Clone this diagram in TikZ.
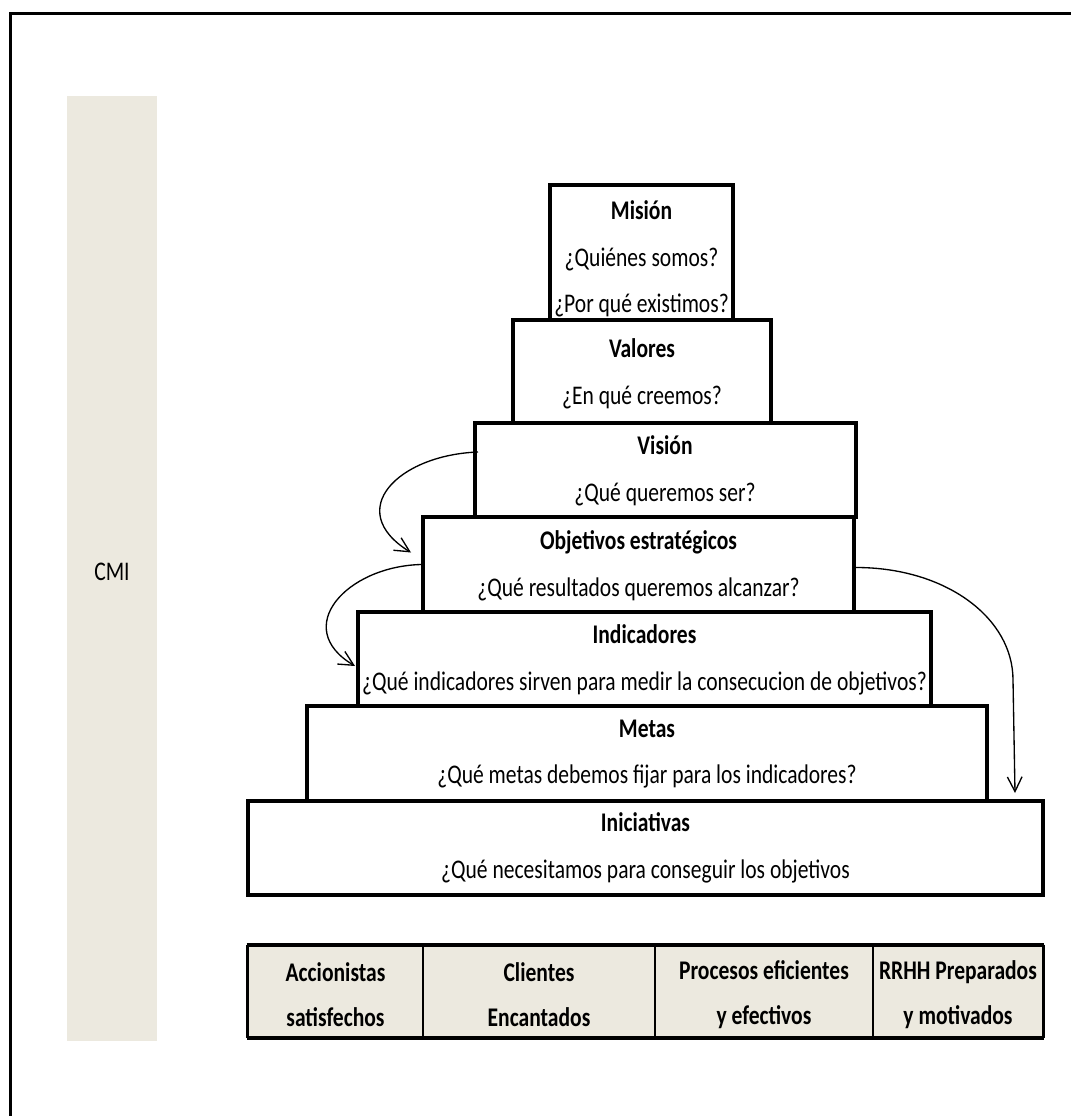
\documentclass[tikz,border=0pt]{standalone}
\usepackage{fontspec}
\setmainfont{Carlito}[FakeStretch=0.8]
\usetikzlibrary{arrows.meta,calc,fit}
\definecolor{panel}{RGB}{236,233,223}
\begin{document}
\begin{tikzpicture}[x=0.75pt,y=-0.75pt,
  tier/.style={draw, line width=3pt, fill=white, inner sep=0pt, line join=miter},
  tiertext/.style={align=center, inner sep=0pt, font=\fontsize{20.2}{35}\selectfont},
  cell/.style={align=center, inner sep=0pt, font=\bfseries\fontsize{20.2}{33.75}\selectfont},
  link/.style={line width=1pt, -{Straight Barb[length=11pt,width=11pt]}},
  bar/.style={fill=panel, inner sep=0pt}]
\useasboundingbox (0,0) rectangle (1070,1116);

% outer frame (runs past the page on the right and at the bottom)
\draw[line width=2.6pt, line join=miter] (1080,13.5) -- (10.5,13.5) -- (10.5,1130);

% side band
\node[bar, fit={(67,96)(157,1041)}] (cmibar) {};
\node[tiertext] (cmi) at (112,572) {CMI};

% pyramid tiers, top to bottom
\node[tier, fit={(550,185)(733,320)}] (mision) {};
\node[tier, fit={(513,320)(771,423)}] (valores) {};
\node[tier, fit={(475,423)(856,517)}] (vision) {};
\node[tier, fit={(423,517)(854,612)}] (objetivos) {};
\node[tier, fit={(358,612)(931,706)}] (indicadores) {};
\node[tier, fit={(307,706)(987,801)}] (metas) {};
\node[tier, fit={(248,801)(1043,895)}] (iniciativas) {};

\node[tiertext] (tmision) at (641.5,259) {\textbf{Misión}\\¿Quiénes somos?\\¿Por qué existimos?};
\node[tiertext] (tvalores) at (642,374) {\textbf{Valores}\\¿En qué creemos?};
\node[tiertext] (tvision) at (665,471) {\textbf{Visión}\\¿Qué queremos ser?};
\node[tiertext] (tobjetivos) at (638.5,566) {\textbf{Objetivos estratégicos}\\¿Qué resultados queremos alcanzar?};
\node[tiertext] (tindicadores) at (644.5,660) {\textbf{Indicadores}\\¿Qué indicadores sirven para medir la consecucion de objetivos?};
\node[tiertext] (tmetas) at (647,754) {\textbf{Metas}\\¿Qué metas debemos fijar para los indicadores?};
\node[tiertext] (tiniciativas) at (645.5,848) {\textbf{Iniciativas}\\¿Qué necesitamos para conseguir los objetivos};

% connectors
\draw[link] ($(vision.west)+(5,-18)$) .. controls +(-80,3) and +(-68,-42) .. ($(objetivos.west)+(-10,-12)$);
\draw[link] ($(objetivos.west)+(0,0)$) .. controls +(-75,2) and +(-64,-38) .. ($(indicadores.west)+(-1,7)$);
\coordinate (bend) at (1013,680);
\coordinate (drop) at ($(iniciativas.north east)+(-30,-6)$);
\draw[link] ($(objetivos.east)+(0,3)$) .. controls +(90,0) and +(0,-62) .. (bend) -- (drop);

% perspectives table
\node[bar, fit={(248,945)(1043,1038)}] (tabla) {};
\draw[line width=2pt] (423,945) -- (423,1038) (655,945) -- (655,1038) (873,945) -- (873,1038);
\draw[line width=2pt] (tabla.north west) -- (tabla.south west) (tabla.north east) -- (tabla.south east);
\draw[line width=3pt] ($(tabla.north west)+(-1,0)$) -- ($(tabla.north east)+(1,0)$)
                      ($(tabla.south west)+(-1,0)$) -- ($(tabla.south east)+(1,0)$);
\node[cell] (c1) at (335.5,994.5) {Accionistas\\satisfechos};
\node[cell] (c2) at (539,994.5) {Clientes\\Encantados};
\node[cell] (c3) at (764,994.5) {Procesos eficientes\\y efectivos};
\node[cell] (c4) at (958,994.5) {RRHH Preparados\\y motivados};
\end{tikzpicture}
\end{document}
